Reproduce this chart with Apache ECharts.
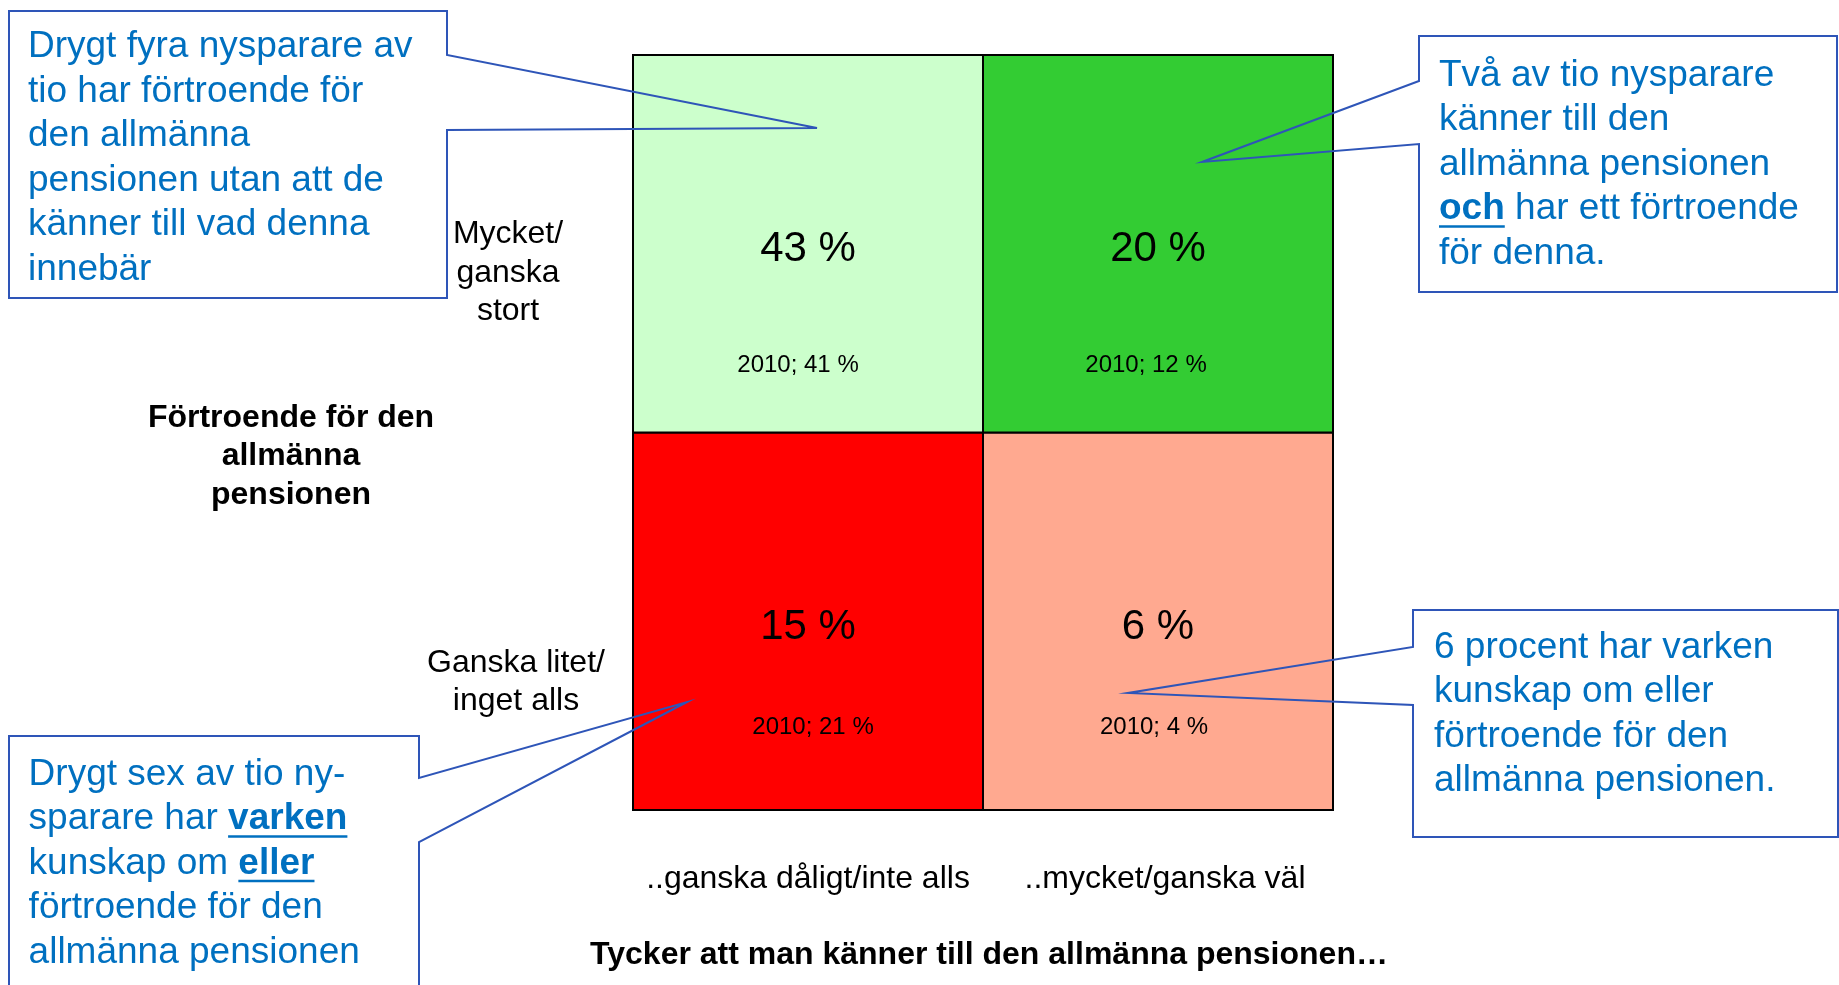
<!DOCTYPE html>
<html>
<head>
<meta charset="utf-8">
<title>Kunskap och förtroende – allmänna pensionen</title>
<script src="https://cdn.jsdelivr.net/npm/echarts@6.0.0/dist/echarts.min.js"></script>
<style>
  html, body { margin: 0; padding: 0; background: #fff; }
  #chart { width: 1839px; height: 985px; }
</style>
</head>
<body>
<div id="chart"></div>
<script>
// kunskap om pensionen (x) mot förtroende (y), andel nysparare i procent
const knowledgeLevels = ['..ganska dåligt/inte alls', '..mycket/ganska väl']
const trustLevels = ['Ganska litet/\ninget alls', 'Mycket/\nganska\nstort'] // nedifrån och upp
const shareNow = [[15, 6], [43, 20]]   // [förtroende][kunskap]
const share2010 = [[21, 4], [41, 12]]
const compareYear = 2010

const calloutTexts = [
  'Drygt fyra nysparare av\ntio har förtroende för\nden allmänna\npensionen utan att de\nkänner till vad denna\ninnebär',
  'Två av tio nysparare\nkänner till den\nallmänna pensionen\n{b|och} har ett förtroende\nför denna.',
  'Drygt sex av tio ny-\nsparare har {b|varken}\nkunskap om {b|eller}\nförtroende för den\nallmänna pensionen',
  '6 procent har varken\nkunskap om eller\nförtroende för den\nallmänna pensionen.'
]

// styles / layout
const fontFamily = '"Liberation Sans", Arial, Helvetica, sans-serif'
const cellColors = [['#FF0000', '#FFA990'], ['#CCFFCC', '#33CC33']]
const noteDrop = [106, 122]
const noteShift = [[5, -4], [-10, -12]]
const textBlue = '#0070C0'
const lineBlue = '#2E55B8'
const calloutSize = 37
const calloutLine = 44.6
const axisFont = 32

const callouts = [
  { x: 28, top: 24.5, outline: [[9, 11], [447, 11], [447, 55], [817, 128], [447, 130], [447, 298], [9, 298]] },
  { x: 1439, top: 53, outline: [[1419, 36], [1837, 36], [1837, 292], [1419, 292], [1419, 144], [1202, 162], [1419, 81]] },
  { x: 28.6, top: 752, outline: [[9, 736], [419, 736], [419, 778], [687, 702], [419, 842], [419, 1000], [9, 1000]] },
  { x: 1434, top: 625, outline: [[1413, 610], [1838, 610], [1838, 837], [1413, 837], [1413, 705], [1128, 693], [1413, 647]] }
]

let cells = []
trustLevels.forEach((t, yi) => {
  knowledgeLevels.forEach((k, xi) => {
    cells.push([xi, yi, shareNow[yi][xi], share2010[yi][xi]])
  })
})

const ctx = document.createElement('canvas').getContext('2d')
function textWidth (str, weight) {
  ctx.font = weight + ' ' + calloutSize + 'px ' + fontFamily
  return ctx.measureText(str).width
}

let graphics = []
callouts.forEach((c, i) => {
  graphics.push({
    type: 'polygon',
    z: 100,
    shape: { points: c.outline },
    style: { fill: 'none', stroke: lineBlue, lineWidth: 2 }
  })
  graphics.push({
    type: 'text',
    z: 101,
    x: c.x,
    y: c.top,
    style: {
      text: calloutTexts[i],
      fill: textBlue,
      fontSize: calloutSize,
      fontFamily: fontFamily,
      lineHeight: calloutLine,
      rich: {
        b: { fill: textBlue, fontSize: calloutSize, fontFamily: fontFamily, fontWeight: 'bold', lineHeight: calloutLine }
      }
    }
  })
  // understrukna ord
  calloutTexts[i].split('\n').forEach((line, li) => {
    let re = /\{b\|([^}]*)\}/g
    let m
    while ((m = re.exec(line)) !== null) {
      let prefix = line.slice(0, m.index).replace(/\{b\|([^}]*)\}/g, '$1')
      let x0 = c.x + textWidth(prefix, 'normal')
      let w = textWidth(m[1], 'bold')
      let y = c.top + li * calloutLine + calloutLine / 2 + 17.5
      graphics.push({
        type: 'line',
        z: 101,
        shape: { x1: x0, y1: y, x2: x0 + w, y2: y },
        style: { stroke: textBlue, lineWidth: 2.5 }
      })
    }
  })
})

// vertikal förskjutning av y-etiketterna via en tom rad överst
const yLabelSideShift = [[0, 0, 0, 8], [0, 8, 0, 0]]

let option = {
  backgroundColor: '#fff',
  animation: false,
  textStyle: { fontFamily: fontFamily },
  grid: { left: 633, top: 55, width: 700, height: 755 },
  xAxis: {
    type: 'category',
    data: knowledgeLevels.map((k, i) => ({ value: k, textStyle: { padding: i === 1 ? [0, 0, 0, 14] : 0 } })),
    axisLine: { show: false },
    axisTick: { show: false },
    splitLine: { show: false },
    axisLabel: { interval: 0, margin: 53, fontSize: axisFont, color: '#000', fontFamily: fontFamily },
    name: 'Tycker att man känner till den allmänna pensionen…',
    nameLocation: 'middle',
    nameGap: 145,
    nameMoveOverlap: false,
    nameTextStyle: { fontSize: axisFont, fontWeight: 'bold', color: '#000', verticalAlign: 'middle', padding: [0, 0, 0, 12], fontFamily: fontFamily }
  },
  yAxis: {
    type: 'category',
    data: trustLevels.map((t, i) => ({
      value: t,
      textStyle: {
        align: 'center',
        verticalAlign: 'middle',
        fontSize: axisFont,
        lineHeight: 38.5,
        color: '#000',
        fontFamily: fontFamily,
        padding: yLabelSideShift[i]
      }
    })),
    axisLine: { show: false },
    axisTick: { show: false },
    splitLine: { show: false },
    axisLabel: {
      margin: 121,
      align: 'center',
      verticalAlign: 'middle',
      fontSize: axisFont,
      lineHeight: 38.5,
      color: '#000',
      fontFamily: fontFamily,
      formatter: (value, index) => '{gap' + index + '| }\n' + value,
      rich: {
        gap0: { fontSize: 1, lineHeight: 122 },
        gap1: { fontSize: 1, lineHeight: 58 }
      }
    },
    name: '{g| }\nFörtroende för den\nallmänna\npensionen',
    nameLocation: 'middle',
    nameRotate: 0,
    nameGap: 342,
    nameMoveOverlap: false,
    nameTextStyle: {
      fontSize: axisFont,
      fontWeight: 'bold',
      lineHeight: 38.5,
      color: '#000',
      align: 'center',
      verticalAlign: 'middle',
      fontFamily: fontFamily,
      rich: { g: { fontSize: 1, lineHeight: 48 } }
    }
  },
  series: [{
    type: 'custom',
    data: cells,
    renderItem (params, api) {
      let xi = api.value(0)
      let yi = api.value(1)
      let c = api.coord([xi, yi])
      let s = api.size([1, 1])
      return {
        type: 'group',
        children: [{
          type: 'rect',
          shape: { x: c[0] - s[0] / 2, y: c[1] - s[1] / 2, width: s[0], height: s[1] },
          style: { fill: cellColors[yi][xi], stroke: '#000', lineWidth: 2 }
        }, {
          type: 'text',
          x: c[0],
          y: c[1] + 6,
          style: {
            text: api.value(2) + ' %',
            align: 'center',
            verticalAlign: 'middle',
            fill: '#000',
            fontSize: 42,
            fontFamily: fontFamily
          }
        }, {
          type: 'text',
          x: c[0] + noteShift[yi][xi],
          y: c[1] + noteDrop[yi],
          style: {
            text: compareYear + '; ' + api.value(3) + ' %',
            align: 'center',
            verticalAlign: 'middle',
            fill: '#000',
            fontSize: 24,
            fontFamily: fontFamily
          }
        }]
      }
    }
  }],
  graphic: graphics
}

let chart = echarts.init(document.getElementById('chart'))
chart.setOption(option)
</script>
</body>
</html>
